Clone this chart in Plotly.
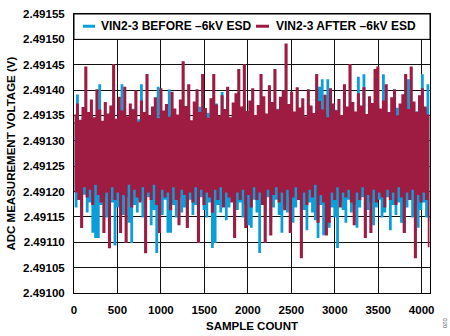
import plotly.graph_objects as go

# ADC readings, in microvolts above 2.49100 V, one value every 16 samples
BASE_V = 2.49100
SAMPLE_STEP = 16

before_uv = [
    335, 170, 390, 185, 328, 150, 345, 195, 322, 160, 350, 180, 330, 120, 340, 110,
    325, 110, 410, 175, 332, 190, 348, 150, 326, 165, 355, 180, 320, 95, 338, 170,
    360, 185, 410, 155, 330, 190, 344, 140, 327, 100, 362, 175, 324, 160, 341, 185,
    410, 150, 333, 170, 350, 190, 329, 135, 365, 165, 322, 80, 405, 180, 340, 155,
    331, 185, 352, 120, 400, 120, 336, 175, 320, 150, 346, 190, 370, 160, 328, 170,
    339, 140, 358, 185, 323, 155, 345, 175, 334, 130, 366, 190, 321, 165, 343, 150,
    354, 180, 330, 90, 337, 100, 372, 175, 325, 160, 395, 185, 340, 145, 400, 170,
    326, 190, 349, 130, 335, 165, 360, 180, 322, 150, 344, 175, 331, 135, 353, 130,
    368, 185, 327, 160, 341, 80, 333, 175, 356, 150, 320, 190, 400, 140, 338, 170,
    329, 185, 362, 155, 346, 120, 324, 175, 336, 160, 365, 190, 330, 140, 350, 170,
    340, 185, 322, 150, 367, 165, 334, 125, 352, 180, 327, 160, 345, 145, 370, 110,
    405, 175, 420, 115, 338, 185, 420, 130, 350, 170, 330, 150, 360, 90, 343, 180,
    324, 165, 355, 140, 336, 185, 368, 160, 329, 175, 351, 130, 425, 170, 340, 190,
    430, 150, 332, 165, 358, 180, 325, 135, 347, 170, 370, 185, 337, 150, 430, 160,
    328, 190, 353, 125, 342, 175, 322, 155, 364, 180, 335, 140, 350, 120, 372, 170,
    420, 185, 338, 150, 326, 175, 357, 130, 344, 165, 430, 180, 362, 150, 410, 140,
]

after_uv = [
    350, 200, 372, 185, 340, 130, 365, 210, 445, 190, 355, 205, 380, 175, 345, 215,
    400, 195, 360, 180, 338, 120, 375, 200, 352, 90, 368, 210, 450, 185, 342, 200,
    385, 120, 358, 195, 405, 100, 347, 215, 372, 170, 360, 205, 398, 190, 336, 180,
    378, 210, 355, 80, 430, 200, 349, 185, 366, 215, 384, 175, 343, 120, 402, 205,
    358, 190, 371, 200, 346, 165, 395, 210, 362, 185, 350, 135, 380, 205, 455, 195,
    367, 130, 410, 200, 339, 180, 376, 210, 400, 100, 355, 205, 430, 175, 363, 200,
    344, 190, 382, 160, 430, 205, 370, 185, 348, 210, 388, 170, 361, 200, 405, 190,
    345, 180, 374, 110, 392, 200, 440, 185, 366, 205, 450, 130, 357, 195, 378, 170,
    402, 210, 349, 185, 369, 200, 430, 175, 386, 100, 352, 205, 408, 115, 375, 195,
    440, 210, 360, 180, 385, 200, 398, 165, 490, 205, 371, 120, 395, 190, 356, 210,
    404, 185, 364, 70, 382, 200, 347, 175, 400, 205, 368, 190, 353, 215, 430, 140,
    377, 195, 360, 180, 389, 115, 345, 140, 402, 200, 372, 185, 358, 210, 381, 170,
    349, 200, 410, 190, 366, 205, 450, 180, 375, 135, 356, 200, 392, 185, 368, 210,
    404, 110, 351, 195, 386, 120, 373, 205, 440, 180, 445, 200, 362, 190, 378, 170,
    410, 205, 355, 185, 384, 200, 400, 175, 348, 210, 372, 190, 390, 120, 430, 200,
    361, 185, 445, 205, 376, 70, 355, 195, 388, 180, 402, 200, 366, 185, 350, 90,
]

SERIES_NAMES = ["VIN2-3 BEFORE \u20136kV ESD", "VIN2-3 AFTER \u20136kV ESD"]
X_TITLE = "SAMPLE COUNT"
Y_TITLE = "ADC MEASUREMENT VOLTAGE (V)"

BLUE = "#0A9FD8"
RED = "#9E1B42"
FONT = "Liberation Sans, Arial, sans-serif"

samples = [i * SAMPLE_STEP for i in range(len(before_uv))]
y_before = [BASE_V + v * 1e-6 for v in before_uv]
y_after = [BASE_V + v * 1e-6 for v in after_uv]

fig = go.Figure()
fig.add_trace(go.Scatter(x=samples, y=y_before, mode="lines", name=SERIES_NAMES[0],
                         line=dict(color=BLUE, width=1.4, shape="hv"), showlegend=False))
fig.add_trace(go.Scatter(x=samples, y=y_after, mode="lines", name=SERIES_NAMES[1],
                         line=dict(color=RED, width=1.7, shape="hv"), showlegend=False))

L, R, T, B = 74, 20, 8, 43
W, H = 450, 336
pw, ph = W - L - R, H - T - B

def px(xpix):
    return (xpix - L) / pw

def py(ypix):
    return (H - B - ypix) / ph

# white legend band above the 2.49150 grid line
fig.add_shape(type="rect", xref="paper", yref="y", x0=0, x1=1, y0=2.49150, y1=2.49155,
              fillcolor="white", line=dict(color="black", width=1), layer="above")
fig.add_shape(type="line", xref="paper", yref="paper", x0=px(83), x1=px(95),
              y0=py(20.5), y1=py(20.5), line=dict(color=BLUE, width=3), layer="above")
fig.add_shape(type="line", xref="paper", yref="paper", x0=px(256), x1=px(269),
              y0=py(20.5), y1=py(20.5), line=dict(color=RED, width=3), layer="above")

bold = dict(family=FONT, size=12, color="black", weight="bold")
fig.add_annotation(text=SERIES_NAMES[0], xref="paper", yref="paper", x=px(99), y=py(20.5),
                   xanchor="left", yanchor="middle", showarrow=False, font=bold)
fig.add_annotation(text=SERIES_NAMES[1], xref="paper", yref="paper", x=px(274), y=py(20.5),
                   xanchor="left", yanchor="middle", showarrow=False, font=bold)
fig.add_annotation(text=X_TITLE, xref="paper", yref="paper", x=0.5, y=py(326.5),
                   xanchor="center", yanchor="middle", showarrow=False,
                   font=dict(family=FONT, size=11.5, color="black", weight="bold"))
fig.add_annotation(text=Y_TITLE, xref="paper", yref="paper", x=px(10), y=0.5,
                   xanchor="center", yanchor="middle", textangle=-90, showarrow=False,
                   font=dict(family=FONT, size=11.5, color="black", weight="bold"))
fig.add_annotation(text="020", xref="paper", yref="paper", x=px(445), y=py(324),
                   xanchor="center", yanchor="middle", textangle=90, showarrow=False,
                   font=dict(family=FONT, size=6, color="#666"))

tickfont = dict(family=FONT, size=11.5, color="black", weight="bold")
fig.update_layout(
    width=W, height=H,
    margin=dict(l=L, r=R, t=T, b=B, pad=0),
    paper_bgcolor="white", plot_bgcolor="white",
    xaxis=dict(range=[0, 4096], tick0=0, dtick=500, showgrid=True, gridcolor="#111",
               gridwidth=1, zeroline=False, showline=True, linecolor="black", linewidth=1,
               mirror=True, ticks="", tickfont=tickfont, ticklabelstandoff=6),
    yaxis=dict(range=[2.49100, 2.49155], tick0=2.49100, dtick=0.00005, tickformat=".5f",
               showgrid=True, gridcolor="#111", gridwidth=1, zeroline=False, showline=True,
               linecolor="black", linewidth=1, mirror=True, ticks="", tickfont=tickfont,
               ticklabelstandoff=6),
)

fig.write_html("out.html")
